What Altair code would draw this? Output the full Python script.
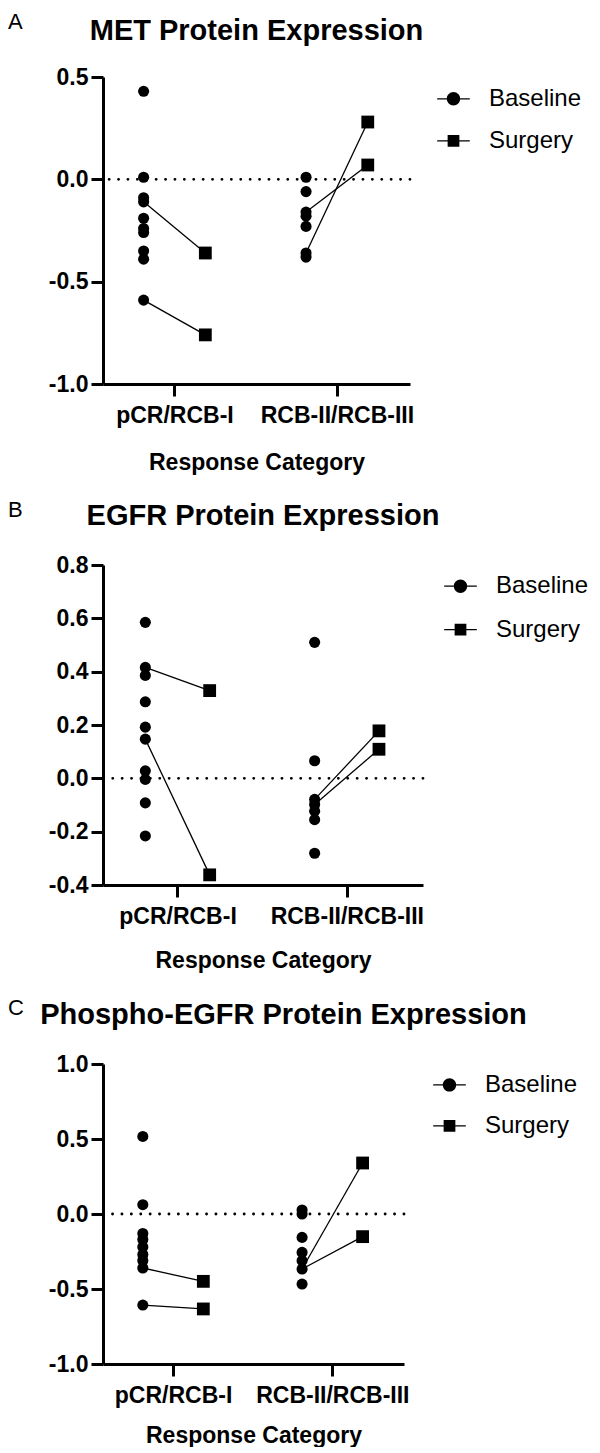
import altair as alt
import pandas as pd

FONT = "Liberation Sans"

CATEGORIES = ["pCR/RCB-I", "RCB-II/RCB-III"]
GROUPS = ["Baseline", "Surgery"]

# ---- MET ----
MET_PCR_BASELINE = [0.43, 0.01, -0.09, -0.11, -0.19, -0.24, -0.26, -0.35, -0.39, -0.59]
MET_RCB_BASELINE = [0.01, -0.06, -0.16, -0.18, -0.23, -0.36, -0.38]
MET_PCR_PAIRED_BASELINE = [-0.11, -0.59]
MET_PCR_SURGERY = [-0.36, -0.76]
MET_RCB_PAIRED_BASELINE = [-0.16, -0.36]
MET_RCB_SURGERY = [0.07, 0.28]
MET_TICKS = [-1.0, -0.5, 0.0, 0.5]

# ---- EGFR ----
EGFR_PCR_BASELINE = [0.585, 0.416, 0.386, 0.287, 0.192, 0.147, 0.028, -0.004, -0.092, -0.216]
EGFR_RCB_BASELINE = [0.51, 0.066, -0.079, -0.098, -0.123, -0.155, -0.281]
EGFR_PCR_PAIRED_BASELINE = [0.416, 0.147]
EGFR_PCR_SURGERY = [0.329, -0.362]
EGFR_RCB_PAIRED_BASELINE = [-0.079, -0.098]
EGFR_RCB_SURGERY = [0.178, 0.109]
EGFR_TICKS = [-0.4, -0.2, 0.0, 0.2, 0.4, 0.6, 0.8]

# ---- Phospho-EGFR ----
PEGFR_PCR_BASELINE = [0.517, 0.062, -0.13, -0.17, -0.22, -0.27, -0.31, -0.36, -0.607]
PEGFR_RCB_BASELINE = [0.027, 0.0, -0.156, -0.256, -0.311, -0.367, -0.467]
PEGFR_PCR_PAIRED_BASELINE = [-0.36, -0.607]
PEGFR_PCR_SURGERY = [-0.449, -0.633]
PEGFR_RCB_PAIRED_BASELINE = [-0.367, -0.367]
PEGFR_RCB_SURGERY = [0.34, -0.151]
PEGFR_TICKS = [-1.0, -0.5, 0.0, 0.5, 1.0]

GROUP_SHIFT = {"Baseline": -0.19, "Surgery": 0.19}
X_DOMAIN = [0.56, 2.45]

# legend glyphs: a short line with the marker on it (filled shapes, same winding)
BASELINE_PATH = ("M-1,-0.04L1,-0.04L1,0.04L-1,0.04Z"
                 "M-0.41,0A0.41,0.41,0,1,1,0.41,0A0.41,0.41,0,1,1,-0.41,0Z")
SURGERY_PATH = ("M-1,-0.04L1,-0.04L1,0.04L-1,0.04Z"
                "M-0.36,-0.36L0.36,-0.36L0.36,0.36L-0.36,0.36Z")

X_LABEL_EXPR = f"datum.value == 1 ? '{CATEGORIES[0]}' : '{CATEGORIES[1]}'"
Y_LABEL_EXPR = "replace(format(datum.value, '.1f'), '\u2212', '-')"


def build_frames(pcr_base, rcb_base, pcr_pb, pcr_s, rcb_pb, rcb_s):
    pts = []
    for ci, vals in ((1, pcr_base), (2, rcb_base)):
        for v in vals:
            pts.append({"cat": ci, "group": "Baseline", "value": v})
    for ci, vals in ((1, pcr_s), (2, rcb_s)):
        for v in vals:
            pts.append({"cat": ci, "group": "Surgery", "value": v})
    lines = []
    pid = 0
    for ci, pb, ps in ((1, pcr_pb, pcr_s), (2, rcb_pb, rcb_s)):
        for b, s in zip(pb, ps):
            lines.append({"pair": pid, "cat": ci, "group": "Baseline", "value": b})
            lines.append({"pair": pid, "cat": ci, "group": "Surgery", "value": s})
            pid += 1
    pts = pd.DataFrame(pts)
    lines = pd.DataFrame(lines)
    for df in (pts, lines):
        df["xpos"] = df["cat"] + df["group"].map(GROUP_SHIFT)
    return pts, lines


def panel(title, letter, data, ticks, width, height, letter_y, title_offset,
          title_dx, legend_x, legend_y, row_pad, x_title_pad):
    pts, lines = build_frames(*data)
    x = alt.X(
        "xpos:Q",
        scale=alt.Scale(domain=X_DOMAIN, nice=False, zero=False),
        axis=alt.Axis(
            values=[1, 2], labelExpr=X_LABEL_EXPR, title="Response Category",
            grid=False, domainColor="black", domainWidth=3, tickColor="black",
            tickWidth=3, tickSize=12, labelFont=FONT, labelFontSize=23,
            labelFontWeight="bold", labelColor="black", labelPadding=8,
            titleFont=FONT, titleFontSize=23, titleFontWeight="bold",
            titleColor="black", titlePadding=x_title_pad, labelFlush=False,
            labelOverlap=False,
        ),
    )
    y = alt.Y(
        "value:Q",
        scale=alt.Scale(domain=[ticks[0], ticks[-1]], nice=False, zero=False),
        axis=alt.Axis(
            values=ticks, labelExpr=Y_LABEL_EXPR, title=None, grid=False,
            domainColor="black", domainWidth=3, tickColor="black", tickWidth=3,
            tickSize=12, labelFont=FONT, labelFontSize=23, labelFontWeight="bold",
            labelColor="black", labelPadding=3, labelFlush=False, labelOverlap=False,
        ),
    )
    zero = alt.Chart(pd.DataFrame({"value": [0.0]})).mark_rule(
        color="black", strokeWidth=2.8, strokeDash=[0.1, 9.3], strokeCap="round"
    ).encode(y=y)
    conn = alt.Chart(lines).mark_line(color="black", strokeWidth=1.3).encode(
        x=x, y=y, detail="pair:N"
    )
    base_pts = alt.Chart(pts).transform_filter("datum.group == 'Baseline'").mark_circle(
        size=123, color="black", opacity=1
    ).encode(x=x, y=y)
    surg_pts = alt.Chart(pts).transform_filter("datum.group == 'Surgery'").mark_square(
        size=164, color="black", opacity=1
    ).encode(x=x, y=y)
    legend = alt.Legend(
        title=None, orient="none", legendX=legend_x, legendY=legend_y, padding=0,
        symbolSize=1063, symbolFillColor="black", symbolStrokeWidth=0,
        symbolOpacity=1, labelFont=FONT, labelFontSize=24,
        labelColor="black", labelOffset=19, rowPadding=row_pad,
    )
    legend_layer = alt.Chart(pts).transform_filter("false").mark_point(
        filled=True, color="black", opacity=1
    ).encode(
        x=x, y=y,
        shape=alt.Shape("group:N", scale=alt.Scale(domain=GROUPS, range=[BASELINE_PATH, SURGERY_PATH]), legend=legend),
    )
    lett = alt.Chart(pd.DataFrame({"t": [letter]})).mark_text(
        align="left", baseline="middle", font=FONT, fontSize=22, color="black"
    ).encode(text="t:N", x=alt.value(-95), y=alt.value(letter_y))
    return alt.layer(zero, conn, base_pts, surg_pts, legend_layer, lett).properties(
        width=width, height=height,
        title=alt.TitleParams(
            title, font=FONT, fontSize=29, fontWeight="bold", color="black",
            anchor="middle", frame="group", baseline="middle",
            offset=title_offset, dx=title_dx,
        ),
    )


A = panel("MET Protein Expression", "A",
          (MET_PCR_BASELINE, MET_RCB_BASELINE, MET_PCR_PAIRED_BASELINE, MET_PCR_SURGERY,
           MET_RCB_PAIRED_BASELINE, MET_RCB_SURGERY),
          MET_TICKS, 307, 307, -55, -49, 0, 334, 5.3, 13, 24)
B = panel("EGFR Protein Expression", "B",
          (EGFR_PCR_BASELINE, EGFR_RCB_BASELINE, EGFR_PCR_PAIRED_BASELINE, EGFR_PCR_SURGERY,
           EGFR_RCB_PAIRED_BASELINE, EGFR_RCB_SURGERY),
          EGFR_TICKS, 320, 320, -55, -46, 0, 341, 4.7, 14.5, 21)
C = panel("Phospho-EGFR Protein Expression", "C",
          (PEGFR_PCR_BASELINE, PEGFR_RCB_BASELINE, PEGFR_PCR_PAIRED_BASELINE, PEGFR_PCR_SURGERY,
           PEGFR_RCB_PAIRED_BASELINE, PEGFR_RCB_SURGERY),
          PEGFR_TICKS, 301, 300, -56, -47, 30, 330, 4.4, 12, 17)

chart = alt.vconcat(A, B, C, spacing=25).resolve_scale(
    x="independent", y="independent", shape="independent"
).resolve_legend(shape="independent").configure_view(stroke=None).properties(
    padding={"top": 3, "left": 0, "right": 0, "bottom": 0}
)

chart.save("out.html", embed_options={"renderer": "svg", "actions": False})
